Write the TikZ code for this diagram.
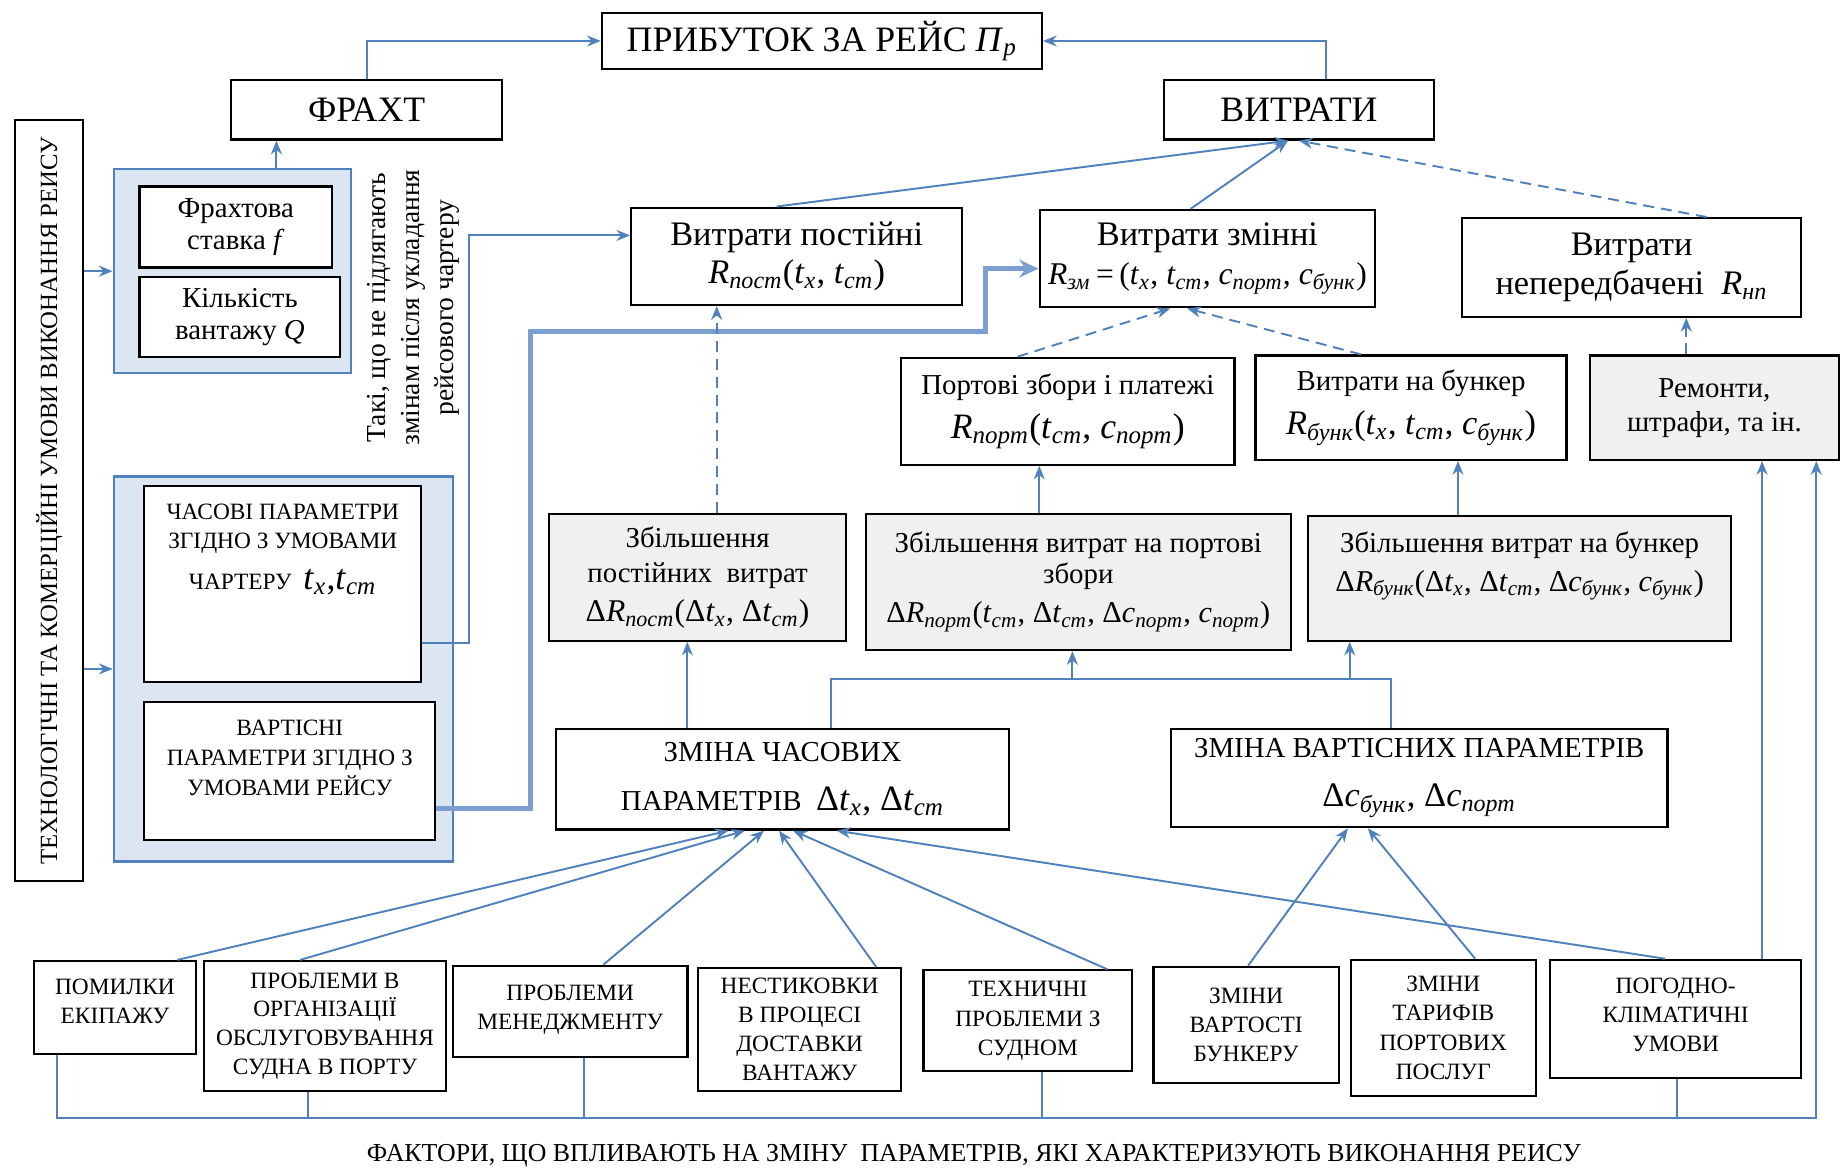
\documentclass[tikz,border=0pt]{standalone}
\usepackage{fontspec}
\setmainfont{Liberation Serif}
\usepackage{xcolor}
\usepackage{tikz}
\usetikzlibrary{arrows.meta,positioning,calc}
\definecolor{linkblue}{HTML}{4F81BD}
\definecolor{heavyblue}{HTML}{7A9FD0}
\definecolor{paleblue}{HTML}{DCE6F2}
\definecolor{shadegray}{HTML}{F0F0F0}

\newcommand{\fsz}[2]{\fontsize{#1}{#2}\selectfont}
\newcommand{\ivar}[2]{\textit{#1}\textsubscript{\textit{#2}}}

\tikzset{
  spot/.style args={#1,#2,#3,#4}{anchor=north west, at={(#1,#2)},
    minimum width={(#3-#1)*0.015cm}, minimum height={(#4-#2)*0.015cm}},
  box/.style={draw=black, line width=0.8pt, fill=white, align=center, inner sep=2pt},
  shaded/.style={box, fill=shadegray},
  group/.style={draw=linkblue, line width=0.9pt, fill=paleblue},
  line/.style={draw=linkblue, line width=0.7pt},
  link/.style={line, -{Stealth[length=5pt,width=4pt]}},
  dlink/.style={link, dash pattern=on 4pt off 2.5pt},
  heavy/.style={draw=heavyblue, line width=1.8pt, -{Stealth[length=7pt,width=6.5pt]}}
}

\begin{document}
\begin{tikzpicture}[x=0.015cm, y=-0.015cm]
\useasboundingbox (0,0) rectangle (1568,999);

% top level
\node[box, spot={512,10,887,58}, font=\fsz{13}{15}] (profit) {ПРИБУТОК ЗА РЕЙС \ivar{П}{р}};
\node[box, spot={196,67,427,118}, font=\fsz{13}{15}] (freight) {ФРАХТ};
\node[box, spot={991,67,1221,118}, font=\fsz{13}{15}] (costs) {ВИТРАТИ};

% conditions column
\node[box, spot={12,101,70,750}] (cond) {};
\node[rotate=90, font=\fsz{9}{11}] (cond-t) at (cond.center) {ТЕХНОЛОГІЧНІ ТА КОМЕРЦІЙНІ УМОВИ ВИКОНАННЯ РЕИСУ};

% freight group
\node[group, spot={96,143,298,317}] (fgroup) {};
\node[box, spot={118,158,282,227}, font=\fsz{10.5}{11.5}] (rate) {Фрахтова\\ставка \textit{f}};
\node[box, spot={118,235,289,303}, font=\fsz{10.5}{11.5}] (cargo) {Кількість\\вантажу \textit{Q}};
\node[rotate=90, align=center, font=\fsz{10}{12.4}] (fixed) at (352,262)
  {Такі, що не підлягають\\змінам після укладання\\рейсового чартеру};

% charter group
\node[group, spot={96,405,385,733}] (cgroup) {};
\node[box, spot={122,413,358,580}] (timep) {};
\node[anchor=north, align=center, font=\fsz{8.5}{10.7}] (timep-t) at ($(timep.north)+(0,8)$)
  {ЧАСОВІ ПАРАМЕТРИ\\ЗГІДНО З УМОВАМИ\\[4pt]ЧАРТЕРУ\ \ {\fsz{13}{14}\ivar{t}{x},\ivar{t}{ст}}};
\node[box, spot={122,597,370,715}] (costp) {};
\node[anchor=north, align=center, font=\fsz{8.5}{10.9}] (costp-t) at ($(costp.north)+(0,8)$)
  {ВАРТІСНІ\\ПАРАМЕТРИ ЗГІДНО З\\УМОВАМИ РЕЙСУ};

% cost blocks
\node[box, spot={537,176,819,259}, font=\fsz{12.5}{14}] (vpost)
  {Витрати постійні\\\ivar{R}{пост}(\ivar{t}{x}, \ivar{t}{ст})};
\node[box, spot={885,178,1171,261}, font=\fsz{12.5}{14}] (vzm)
  {Витрати змінні\\{\fsz{11.5}{13}\ivar{R}{зм}\,=\,(\ivar{t}{x}, \ivar{t}{ст}, \ivar{c}{порт}, \ivar{c}{бунк})}};
\node[box, spot={1245,185,1534,269}, font=\fsz{12.5}{14}] (vnp)
  {Витрати\\непередбачені\ \ \ivar{R}{нп}};
\node[box, spot={767,304,1051,395}, font=\fsz{10.5}{12}] (port)
  {Портові збори і платежі\\[4pt]{\fsz{13}{14}\ivar{R}{порт}(\ivar{t}{ст}, \ivar{c}{порт})}};
\node[box, spot={1069,302,1334,391}, font=\fsz{10.5}{12}] (bunk)
  {Витрати на бункер\\[4pt]{\fsz{12.5}{14}\ivar{R}{бунк}(\ivar{t}{x}, \ivar{t}{ст}, \ivar{c}{бунк})}};
\node[shaded, spot={1354,302,1566,391}, font=\fsz{10.5}{12.4}] (repair) {Ремонти,\\штрафи, та ін.};

% increments
\node[shaded, spot={467,437,720,545}, font=\fsz{10.5}{13}] (dfix)
  {Збільшення\\постійних\ \ витрат\\[1pt]{\fsz{11.5}{13}Δ\ivar{R}{пост}(Δ\ivar{t}{x}, Δ\ivar{t}{ст})}};
\node[shaded, spot={737,437,1099,553}, font=\fsz{10.5}{11.2}] (dport)
  {Збільшення витрат на портові\\збори\\[3pt]{\fsz{11}{13}Δ\ivar{R}{порт}(\ivar{t}{ст}, Δ\ivar{t}{ст}, Δ\ivar{c}{порт}, \ivar{c}{порт})}};
\node[shaded, spot={1114,439,1474,545}] (dbunk) {};
\node[anchor=north, align=center, font=\fsz{10.5}{12}] (dbunk-t) at ($(dbunk.north)+(0,6)$)
  {Збільшення витрат на бункер\\[2pt]{\fsz{11}{13}Δ\ivar{R}{бунк}(Δ\ivar{t}{x}, Δ\ivar{t}{ст}, Δ\ivar{c}{бунк}, \ivar{c}{бунк})}};

% parameter changes
\node[box, spot={473,620,859,706}, font=\fsz{10.5}{12}] (dtime)
  {ЗМІНА ЧАСОВИХ\\[6pt]ПАРАМЕТРІВ\ \ {\fsz{13}{14}Δ\ivar{t}{x}, Δ\ivar{t}{ст}}};
\node[box, spot={997,620,1420,704}, font=\fsz{10.5}{12}] (dcost)
  {ЗМІНА ВАРТІСНИХ ПАРАМЕТРІВ\\[6pt]{\fsz{12.5}{14}Δ\ivar{c}{бунк}, Δ\ivar{c}{порт}}};

% factors
\node[box, spot={28,818,166,897}] (crew) {};
\node[anchor=north, align=center, font=\fsz{8.5}{10.5}] (crew-t) at ($(crew.north)+(0,8)$) {ПОМИЛКИ\\ЕКІПАЖУ};
\node[box, spot={173,818,379,929}, font=\fsz{8.5}{10.5}] (port-org)
  {ПРОБЛЕМИ В\\ОРГАНІЗАЦІЇ\\ОБСЛУГОВУВАННЯ\\СУДНА В ПОРТУ};
\node[box, spot={385,822,585,900}] (mgmt) {};
\node[anchor=north, align=center, font=\fsz{8.5}{10.5}] (mgmt-t) at ($(mgmt.north)+(0,9)$) {ПРОБЛЕМИ\\МЕНЕДЖМЕНТУ};
\node[box, spot={594,824,767,929}, font=\fsz{8.5}{10.6}] (delivery)
  {НЕСТИКОВКИ\\В ПРОЦЕСІ\\ДОСТАВКИ\\ВАНТАЖУ};
\node[box, spot={786,826,964,912}, font=\fsz{8.5}{10.6}] (tech)
  {ТЕХНИЧНІ\\ПРОБЛЕМИ З\\СУДНОМ};
\node[box, spot={982,823,1140,922}, font=\fsz{8.5}{10.6}] (bunker-price)
  {ЗМІНИ\\ВАРТОСТІ\\БУНКЕРУ};
\node[box, spot={1150,817,1308,933}, font=\fsz{8.5}{10.6}] (tariffs)
  {ЗМІНИ\\ТАРИФІВ\\ПОРТОВИХ\\ПОСЛУГ};
\node[box, spot={1320,817,1534,918}] (weather) {};
\node[anchor=north, align=center, font=\fsz{8.5}{10.5}] (weather-t) at ($(weather.north)+(0,8)$)
  {ПОГОДНО-\\КЛІМАТИЧНІ\\УМОВИ};
\node[font=\fsz{9.4}{11}] (factors) at (830,985)
  {ФАКТОРИ, ЩО ВПЛИВАЮТЬ НА ЗМІНУ\ \ ПАРАМЕТРІВ, ЯКІ ХАРАКТЕРИЗУЮТЬ ВИКОНАННЯ РЕИСУ};

% profit
\draw[link] (freight.north) |- (profit.west);
\coordinate (costs-top) at ($(costs.north west)!0.6!(costs.north east)$);
\draw[link] (costs-top) |- (profit.east);

% inputs from the conditions
\coordinate (fr-in) at ($(freight.south west)!0.17!(freight.south east)$);
\draw[link] (fgroup.north -| fr-in) -- (fr-in);
\draw[link] (cond.east |- fgroup.west) -- (fgroup.west);
\draw[link] (cond.east |- cgroup.west) -- (cgroup.west);
\coordinate (vp-in) at ($(vpost.north west)!0.29!(vpost.south west)$);
\draw[link] ($(timep.north east)!0.8!(timep.south east)$) -- ++(40,0) |- (vp-in);
\coordinate (vz-in) at ($(vzm.north west)!0.6!(vzm.south west)$);
\draw[heavy] ($(costp.north east)!0.77!(costp.south east)$) -- ++(80,0) -- ++(0,-407) -- ++(388,0) |- (vz-in);

% into the costs
\coordinate (vy-in) at ($(costs.south west)!0.46!(costs.south east)$);
\draw[link] ($(vpost.north west)!0.44!(vpost.north east)$) -- (vy-in);
\draw[link] ($(vzm.north west)!0.45!(vzm.north east)$) -- (vy-in);
\draw[dlink] ($(vnp.north west)!0.72!(vnp.north east)$) -- (costs.south);
\draw[dlink] ($(port.north west)!0.35!(port.north east)$) -- ($(vzm.south west)!0.39!(vzm.south east)$);
\draw[dlink] ($(bunk.north west)!0.34!(bunk.north east)$) -- ($(vzm.south west)!0.44!(vzm.south east)$);
\coordinate (np-in) at ($(vnp.south west)!0.66!(vnp.south east)$);
\draw[dlink] (repair.north -| np-in) -- (np-in);

% increments
\coordinate (vp-low) at ($(vpost.south west)!0.26!(vpost.south east)$);
\draw[dlink] (dfix.north -| vp-low) -- (vp-low);
\coordinate (pt-low) at ($(port.south west)!0.415!(port.south east)$);
\draw[link] (dport.north -| pt-low) -- (pt-low);
\coordinate (bk-low) at ($(bunk.south west)!0.65!(bunk.south east)$);
\draw[link] (dbunk.north -| bk-low) -- (bk-low);

% parameter changes
\coordinate (df-low) at ($(dfix.south west)!0.466!(dfix.south east)$);
\draw[link] (dtime.north -| df-low) -- (df-low);
\coordinate (bus-l) at ($(dtime.north west)!0.606!(dtime.north east)$);
\coordinate (bus-r) at ($(dcost.north west)!0.444!(dcost.north east)$);
\coordinate (bus) at ($(bus-l)+(0,-41)$);
\draw[line] (bus-l) -- (bus) -| (bus-r);
\coordinate (dp-low) at ($(dport.south west)!0.486!(dport.south east)$);
\draw[link] (bus -| dp-low) -- (dp-low);
\coordinate (db-low) at ($(dbunk.south west)!0.1!(dbunk.south east)$);
\draw[link] (bus -| db-low) -- (db-low);

% factors
\foreach \src/\a/\b in {crew/0.88/0.381, port-org/0.398/0.417, mgmt/0.64/0.459,
    delivery/0.873/0.492, tech/0.876/0.523, weather/0.458/0.619}
  \draw[link] ($(\src.north west)!\a!(\src.north east)$) -- ($(dtime.south west)!\b!(dtime.south east)$);
\foreach \src/\a/\b in {bunker-price/0.51/0.357, tariffs/0.67/0.397}
  \draw[link] ($(\src.north west)!\a!(\src.north east)$) -- ($(dcost.south west)!\b!(dcost.south east)$);
\coordinate (rm-low1) at ($(repair.south west)!0.69!(repair.south east)$);
\draw[link] (weather.north -| rm-low1) -- (rm-low1);
\coordinate (rm-low2) at ($(repair.south west)!0.906!(repair.south east)$);
\coordinate (base) at ($(port-org.south)+(0,22)$);
\draw[link] ($(crew.south west)!0.145!(crew.south east)$) |- (base -| rm-low2) -- (rm-low2);
\foreach \src/\a in {port-org/0.43, mgmt/0.56, tech/0.567, weather/0.505}{
  \coordinate (drop) at ($(\src.south west)!\a!(\src.south east)$);
  \draw[line] (drop) -- (drop |- base);
}
\end{tikzpicture}
\end{document}
